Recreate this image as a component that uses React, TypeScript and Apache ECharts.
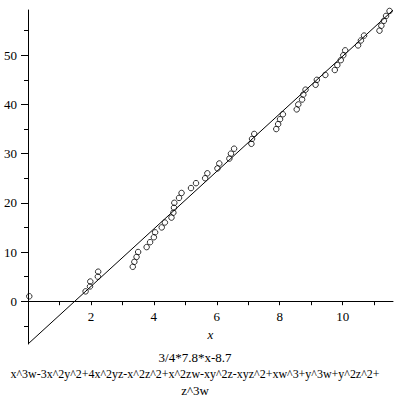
import React, { useEffect, useRef } from "react";
import * as echarts from "echarts";

// y = 1..59, x
const pointX = [
  0.04, 1.83, 1.97, 1.98, 2.22, 2.23, 3.33, 3.38, 3.45, 3.5,
  3.77, 3.88, 4.0, 4.04, 4.25, 4.35, 4.56, 4.62, 4.64, 4.65,
  4.8, 4.88, 5.18, 5.34, 5.63, 5.7, 6.02, 6.08, 6.4, 6.45,
  6.55, 7.1, 7.12, 7.19, 7.89, 7.95, 8.01, 8.1, 8.54, 8.59,
  8.71, 8.75, 8.82, 9.14, 9.18, 9.45, 9.75, 9.83, 9.94, 10.02,
  10.08, 10.49, 10.58, 10.68, 11.17, 11.23, 11.31, 11.38, 11.49,
];
const pointY = pointX.map((_, i) => i + 1);

const linePoints = [
  [0, -8.7],
  [11.6, 59.16],
];

const xTicks = [1, 2, 3, 4, 5, 6, 7, 8, 9, 10, 11];
const xLabels = [2, 4, 6, 8, 10];
const yMajor = [0, 10, 20, 30, 40, 50];
const yMinor = [-5, 5, 15, 25, 35, 45, 55];

const captionLines = [
  "3/4*7.8*x-8.7",
  "x^3w-3x^2y^2+4x^2yz-x^2z^2+x^2zw-xy^2z-xyz^2+xw^3+y^3w+y^2z^2+",
  "z^3w",
];

const FONT = "Times New Roman, Liberation Serif, Tinos, serif";

export default function App() {
  const ref = useRef<HTMLDivElement>(null);
  useEffect(() => {
    if (!ref.current) return;
    const chart = echarts.init(ref.current, undefined, { renderer: "svg" });
    const yBase = {
      type: "value" as const,
      min: -8.7,
      max: 59.2,
      position: "left" as const,
      splitLine: { show: false },
    };
    const captionY = [357.5, 374, 390.5];
    const captionScale = [1, 0.92, 1];
    chart.setOption({
      animation: false,
      backgroundColor: "#fff",
      grid: { left: 28, right: 7, top: 10, bottom: 56 },
      xAxis: {
        type: "value",
        min: 0,
        max: 11.6,
        position: "bottom",
        offset: -42.8,
        name: "x",
        nameLocation: "middle",
        nameGap: 26,
        nameTextStyle: { color: "#000", fontFamily: FONT, fontStyle: "italic", fontSize: 13 },
        axisLine: { onZero: false, lineStyle: { color: "#000", width: 1 } },
        axisTick: { show: true, customValues: xTicks, length: 4, lineStyle: { color: "#000" } },
        axisLabel: { customValues: xLabels, color: "#000", fontFamily: FONT, fontSize: 13, margin: 9 },
        splitLine: { show: false },
      },
      yAxis: [
        {
          ...yBase,
          axisLine: { show: true, onZero: false, lineStyle: { color: "#000", width: 1 } },
          axisTick: { show: true, customValues: yMajor, length: 7, lineStyle: { color: "#000" } },
          axisLabel: { customValues: yMajor, color: "#000", fontFamily: FONT, fontSize: 13, margin: 11 },
        },
        {
          ...yBase,
          axisLine: { show: false, onZero: false },
          axisTick: { show: true, customValues: yMinor, length: 4, lineStyle: { color: "#000" } },
          axisLabel: { show: false },
        },
      ],
      series: [
        {
          type: "line",
          data: linePoints,
          showSymbol: false,
          lineStyle: { color: "#000", width: 1 },
          silent: true,
        },
        {
          type: "scatter",
          data: pointX.map((x, i) => [x, pointY[i]]),
          symbol: "circle",
          symbolSize: 5.5,
          itemStyle: { color: "rgba(0,0,0,0)", borderColor: "#000", borderWidth: 1 },
        },
      ],
      graphic: captionLines.map((t, i) => ({
        type: "text",
        x: 195,
        y: captionY[i],
        scaleX: captionScale[i],
        style: {
          text: t,
          fill: "#000",
          fontFamily: FONT,
          fontSize: 13,
          align: "center",
          verticalAlign: "middle",
        },
      })),
    });
    return () => chart.dispose();
  }, []);
  return <div ref={ref} style={{ position: "fixed", left: 0, top: 0, width: 400, height: 400 }} />;
}
